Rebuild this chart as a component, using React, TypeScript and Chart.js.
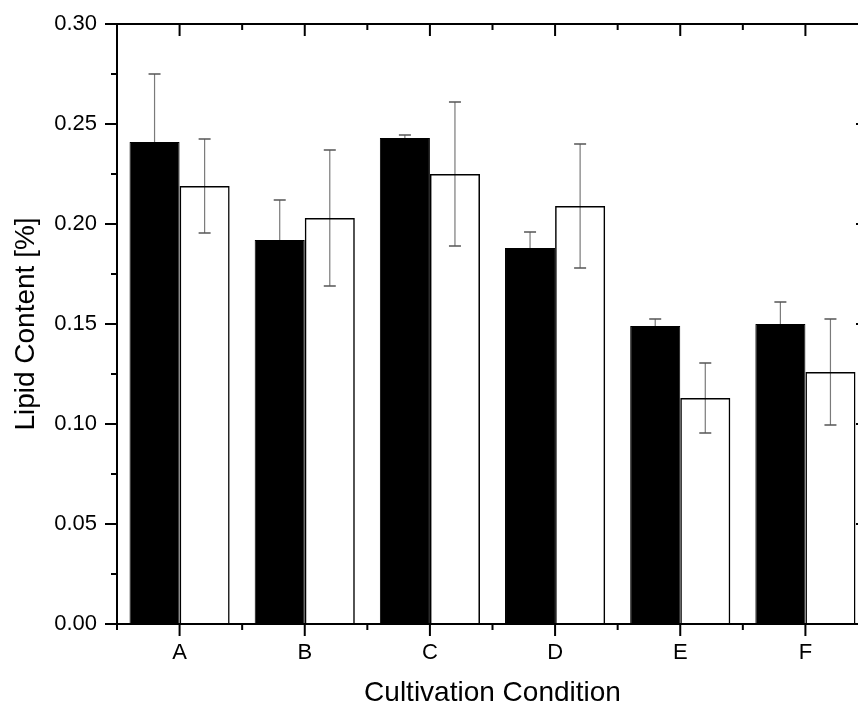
import React, { useEffect, useRef } from "react";
import { Chart, registerables } from "chart.js";

Chart.register(...registerables);

const categories = ["A", "B", "C", "D", "E", "F"];
const blackValues = [0.241, 0.192, 0.243, 0.188, 0.149, 0.150];
const blackErrors = [0.034, 0.020, 0.0015, 0.008, 0.0035, 0.011];
const whiteValues = [0.219, 0.203, 0.225, 0.209, 0.113, 0.126];
const whiteErrors = [0.0235, 0.034, 0.036, 0.031, 0.0175, 0.0265];
const yMajorTicks = [0, 0.05, 0.1, 0.15, 0.2, 0.25, 0.3];
const yMinorTicks = [0.025, 0.075, 0.125, 0.175, 0.225, 0.275];
const errorSets = [blackErrors, whiteErrors];

const FONT = "'Liberation Sans', Arial, Helvetica, sans-serif";

const errorBarPlugin = {
  id: "errorBars",
  beforeDatasetsDraw(chart: any) {
    const ctx = chart.ctx;
    const y = chart.scales.y;
    ctx.save();
    chart.data.datasets.forEach((ds: any, d: number) => {
      const meta = chart.getDatasetMeta(d);
      meta.data.forEach((bar: any, i: number) => {
        const v = ds.data[i];
        const e = errorSets[d][i];
        const yt = y.getPixelForValue(v + e);
        const yb = y.getPixelForValue(v - e);
        const x = bar.x;
        ctx.strokeStyle = "#7a7a7a";
        ctx.lineWidth = 1.2;
        ctx.beginPath();
        ctx.moveTo(x, yt);
        ctx.lineTo(x, yb);
        ctx.stroke();
        ctx.strokeStyle = "#555";
        ctx.lineWidth = 1.5;
        ctx.beginPath();
        ctx.moveTo(x - 6, yt);
        ctx.lineTo(x + 6, yt);
        ctx.moveTo(x - 6, yb);
        ctx.lineTo(x + 6, yb);
        ctx.stroke();
      });
    });
    ctx.restore();
  },
};

const framePlugin = {
  id: "frame",
  afterDraw(chart: any) {
    const ctx = chart.ctx;
    const { left, right, top, bottom } = chart.chartArea;
    const xs = chart.scales.x;
    const ys = chart.scales.y;
    ctx.save();
    ctx.strokeStyle = "#000";
    ctx.lineWidth = 2;
    ctx.strokeRect(left, top, right - left, bottom - top);
    ctx.beginPath();
    yMajorTicks.forEach((v) => {
      const p = ys.getPixelForValue(v);
      ctx.moveTo(left - 12, p);
      ctx.lineTo(left, p);
      ctx.moveTo(right - 12, p);
      ctx.lineTo(right, p);
    });
    yMinorTicks.forEach((v) => {
      const p = ys.getPixelForValue(v);
      ctx.moveTo(left - 6, p);
      ctx.lineTo(left, p);
      ctx.moveTo(right - 6, p);
      ctx.lineTo(right, p);
    });
    const centers = categories.map((_, i) => xs.getPixelForValue(i));
    centers.forEach((p) => {
      ctx.moveTo(p, bottom);
      ctx.lineTo(p, bottom + 12);
      ctx.moveTo(p, top);
      ctx.lineTo(p, top + 12);
    });
    const minors = [left];
    for (let i = 0; i < centers.length - 1; i++) minors.push((centers[i] + centers[i + 1]) / 2);
    minors.push(right);
    minors.forEach((p) => {
      ctx.moveTo(p, bottom);
      ctx.lineTo(p, bottom + 6);
      ctx.moveTo(p, top);
      ctx.lineTo(p, top + 6);
    });
    ctx.stroke();
    ctx.restore();
  },
};

export default function App() {
  const ref = useRef<HTMLCanvasElement | null>(null);
  useEffect(() => {
    document.body.style.margin = "0";
    const canvas = ref.current;
    if (!canvas) return;
    const chart = new Chart(canvas, {
      type: "bar",
      data: {
        labels: categories,
        datasets: [
          {
            data: blackValues,
            backgroundColor: "#000",
            borderColor: "#000",
            borderWidth: 1,
            categoryPercentage: 0.8,
            barPercentage: 1.0,
          },
          {
            data: whiteValues,
            backgroundColor: "rgba(255,255,255,0)",
            borderColor: "#000",
            borderWidth: 1.5,
            categoryPercentage: 0.8,
            barPercentage: 1.0,
          },
        ],
      },
      options: {
        animation: false,
        responsive: false,
        devicePixelRatio: 1,
        layout: { padding: { top: 24, left: 0, right: 0, bottom: 0 } },
        plugins: { legend: { display: false }, tooltip: { enabled: false } },
        scales: {
          x: {
            type: "category",
            grid: { display: false, drawTicks: false },
            border: { display: false },
            ticks: { color: "#000", font: { family: FONT, size: 22 }, padding: 16 },
            title: {
              display: true,
              text: "Cultivation Condition",
              color: "#000",
              font: { family: FONT, size: 28, lineHeight: 1 },
              padding: { top: 0, bottom: 0 },
            },
            afterFit: (s: any) => {
              s.height = 83;
              s.paddingLeft = 0;
              s.paddingRight = 0;
            },
          },
          y: {
            min: 0,
            max: 0.3,
            grid: { display: false, drawTicks: false },
            border: { display: false },
            ticks: {
              stepSize: 0.05,
              color: "#000",
              font: { family: FONT, size: 22 },
              padding: 20,
              callback: (v: any) => Number(v).toFixed(2),
            },
            title: {
              display: true,
              text: "Lipid Content [%]",
              color: "#000",
              font: { family: FONT, size: 28, lineHeight: 1 },
              padding: { top: 12, bottom: 0 },
            },
            afterFit: (s: any) => {
              s.width = 117;
              s.paddingTop = 0;
              s.paddingBottom = 0;
            },
          },
        },
      } as any,
      plugins: [errorBarPlugin, framePlugin],
    });
    return () => chart.destroy();
  }, []);
  return (
    <div style={{ position: "fixed", left: 0, top: 0, width: 858, height: 707, overflow: "hidden", background: "#fff" }}>
      <canvas ref={ref} width={868} height={707} style={{ display: "block" }} />
    </div>
  );
}
